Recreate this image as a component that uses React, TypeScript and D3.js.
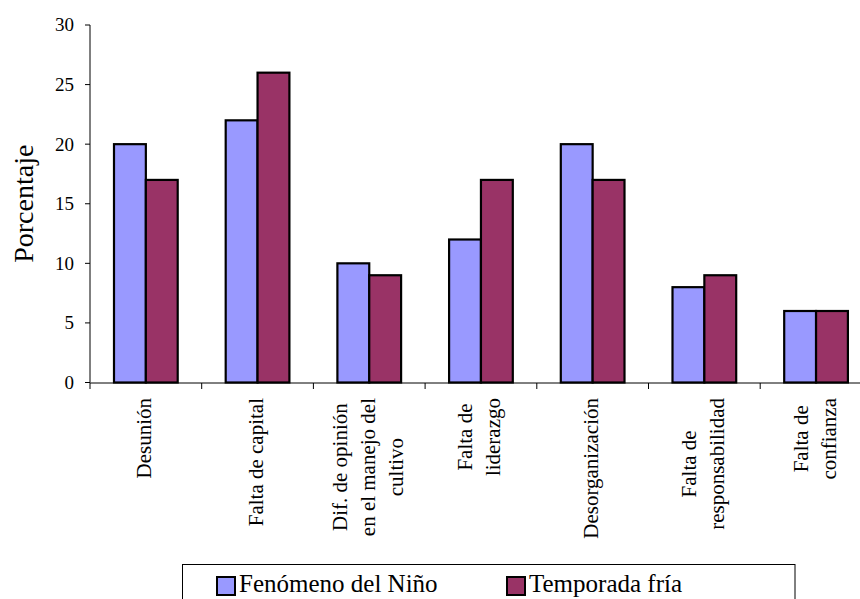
import React from "react";
import * as d3 from "d3";

const categories: string[][] = [
  ["Desunión"],
  ["Falta de capital"],
  ["Dif. de opinión", "en el manejo del", "cultivo"],
  ["Falta de", "liderazgo"],
  ["Desorganización"],
  ["Falta de", "responsabilidad"],
  ["Falta de", "confianza"],
];
const seriesNames = ["Fenómeno del Niño", "Temporada fría"];
const ninoValues = [20, 22, 10, 12, 20, 8, 6];
const friaValues = [17, 26, 9, 17, 17, 9, 6];
const yTicks = [0, 5, 10, 15, 20, 25, 30];
const colors = ["#9999FF", "#993366"];

const W = 860;
const H = 599;
const FONT = "Liberation Serif, Times New Roman, Times, serif";
const fontStyle = { fontFamily: FONT };

let measureCtx: CanvasRenderingContext2D | null = null;
function textWidth(s: string, size: number): number {
  if (!measureCtx) {
    const c = document.createElement("canvas");
    measureCtx = c.getContext("2d");
  }
  if (!measureCtx) return s.length * size * 0.45;
  measureCtx.font = `${size}px "Liberation Serif", serif`;
  return measureCtx.measureText(s).width;
}

export default function App() {
  const left = 90;
  const step = 111.7;
  const keys = categories.map((_, i) => String(i));
  const x0 = d3
    .scaleBand<string>()
    .domain(keys)
    .range([left, left + step * keys.length])
    .paddingInner(0)
    .paddingOuter(0);
  const x1 = d3
    .scaleBand<string>()
    .domain(seriesNames)
    .range([0, x0.bandwidth()])
    .paddingInner(0)
    .paddingOuter(0.7535);
  const y = d3.scaleLinear().domain([0, 30]).range([382.5, 25]);

  const series = [ninoValues, friaValues];
  const labelSize = 21;
  const lineGap = 28;

  return (
    <svg
      width={W}
      height={H}
      style={{ position: "absolute", left: 0, top: 0, background: "#fff", fontFamily: FONT }}
    >
      <rect x={0} y={0} width={W} height={H} fill="#fff" />

      {/* bars */}
      {keys.map((k, i) => (
        <g key={k} transform={`translate(${x0(k)},0)`}>
          {seriesNames.map((s, j) => {
            const v = series[j][i];
            return (
              <rect
                key={s}
                x={x1(s)}
                y={y(v)}
                width={x1.bandwidth()}
                height={y(0) - y(v)}
                fill={colors[j]}
                stroke="#000"
                strokeWidth={2.2}
              />
            );
          })}
        </g>
      ))}

      {/* y axis */}
      <line x1={left} x2={left} y1={y(30)} y2={y(0)} stroke="#000" strokeWidth={1} />
      {yTicks.map((t) => (
        <g key={t}>
          <line x1={left - 5} x2={left} y1={y(t)} y2={y(t)} stroke="#000" strokeWidth={1} />
          <text
            x={74}
            y={y(t)}
            dy="0.34em"
            textAnchor="end"
            fontSize={19}
            fill="#000"
            style={fontStyle}
          >
            {t}
          </text>
        </g>
      ))}
      <text
        transform={`translate(33,${(y(0) + y(30)) / 2}) rotate(-90)`}
        textAnchor="middle"
        fontSize={28}
        fill="#000"
        style={fontStyle}
      >
        Porcentaje
      </text>

      {/* x axis */}
      <line x1={left} x2={W} y1={383} y2={383} stroke="#000" strokeWidth={1} />
      {d3.range(keys.length + 1).map((i) => (
        <line
          key={i}
          x1={left + i * step}
          x2={left + i * step}
          y1={383}
          y2={389}
          stroke="#000"
          strokeWidth={1}
        />
      ))}

      {/* category labels, rotated */}
      {categories.map((lines, i) => {
        const cx = (x0(String(i)) ?? 0) + x0.bandwidth() / 2;
        const maxW = Math.max(...lines.map((l) => textWidth(l, labelSize)));
        const cy = 398 + maxW / 2;
        return lines.map((line, li) => {
          const bx = cx + 5.5 + (li - (lines.length - 1) / 2) * lineGap;
          return (
            <text
              key={`${i}-${li}`}
              transform={`translate(${bx},${cy}) rotate(-90)`}
              textAnchor="middle"
              fontSize={labelSize}
              fill="#000"
              style={fontStyle}
            >
              {line}
            </text>
          );
        });
      })}

      {/* legend */}
      <rect x={182.5} y={564.5} width={612.5} height={60} fill="#fff" stroke="#000" strokeWidth={1} />
      {seriesNames.map((s, j) => {
        const mx = [217, 507][j];
        return (
          <g key={s}>
            <rect x={mx} y={577} width={18} height={18} fill={colors[j]} stroke="#000" strokeWidth={2} />
            <text x={mx + 22} y={592} fontSize={25} fill="#000" style={fontStyle}>
              {s}
            </text>
          </g>
        );
      })}
    </svg>
  );
}
